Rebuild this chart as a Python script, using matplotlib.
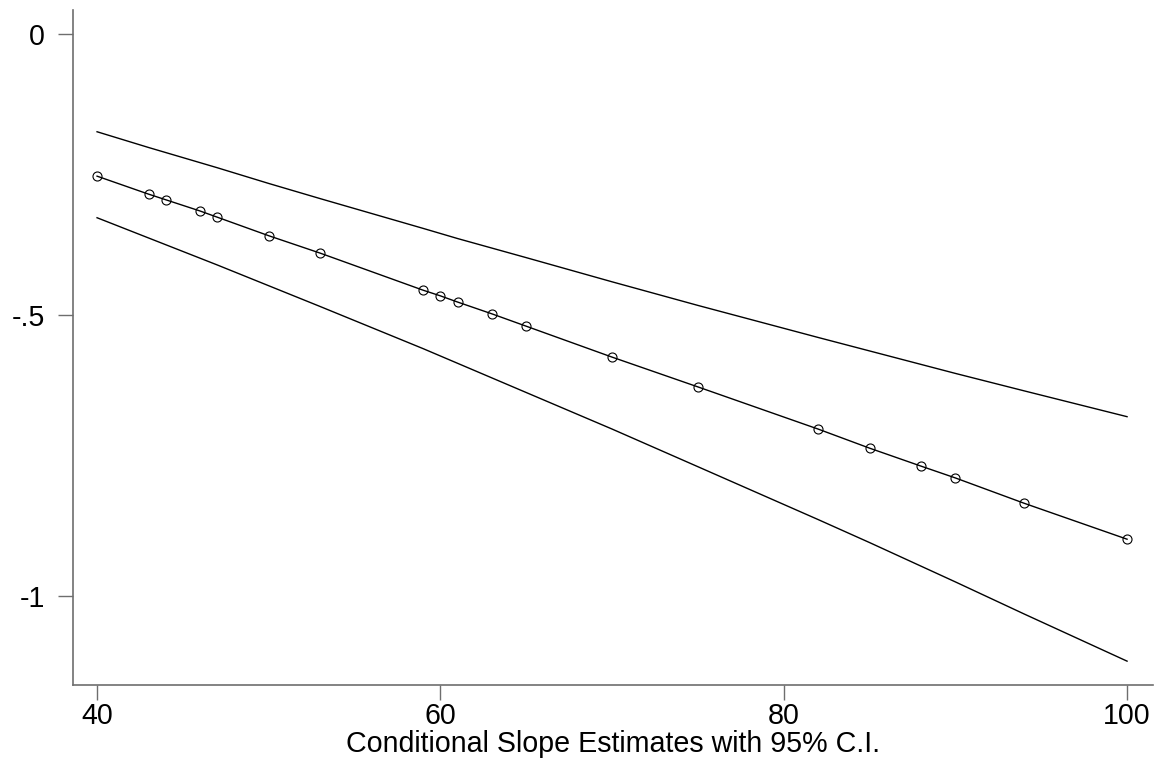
import numpy as np
import matplotlib.pyplot as plt
import matplotlib as mpl

mpl.rcParams["font.family"] = ["Liberation Sans", "DejaVu Sans"]

# moderator values and conditional slope estimates
x_vals = [40, 43, 44, 46, 47, 50, 53, 59, 60, 61, 63, 65, 70, 75, 82, 85, 88, 90, 94, 100]
slope = [-0.253, -0.285, -0.295, -0.315, -0.326, -0.359, -0.390, -0.456, -0.466, -0.477,
         -0.498, -0.520, -0.575, -0.628, -0.703, -0.737, -0.769, -0.790, -0.835, -0.899]
ci_upper = [-0.174, -0.202, -0.211, -0.229, -0.238, -0.266, -0.293, -0.346, -0.355, -0.364,
            -0.381, -0.398, -0.441, -0.483, -0.540, -0.564, -0.588, -0.604, -0.635, -0.681]
ci_lower = [-0.327, -0.363, -0.375, -0.399, -0.411, -0.448, -0.485, -0.560, -0.573, -0.586,
            -0.612, -0.638, -0.703, -0.770, -0.864, -0.905, -0.947, -0.975, -1.032, -1.116]

x_ticks = [40, 60, 80, 100]
y_ticks = [0, -0.5, -1]
y_tick_labels = ["0", "-.5", "-1"]
x_label = "Conditional Slope Estimates with 95% C.I."

fig = plt.figure(figsize=(11.59, 7.61), dpi=100)
ax = fig.add_axes([0.063, 0.0999, 0.9318, 0.887])

ax.plot(x_vals, ci_upper, color="black", linewidth=1.0)
ax.plot(x_vals, ci_lower, color="black", linewidth=1.0)
ax.plot(x_vals, slope, color="black", linewidth=1.0, marker="o", markersize=6.5,
        markerfacecolor="none", markeredgecolor="black", markeredgewidth=0.8)

ax.set_xlim(38.6, 101.51)
ax.set_ylim(-1.1584, 0.0427)

ax.set_xticks(x_ticks)
ax.set_xticklabels([str(t) for t in x_ticks])
ax.set_yticks(y_ticks)
ax.set_yticklabels(y_tick_labels)

for side in ["top", "right"]:
    ax.spines[side].set_visible(False)
for side in ["left", "bottom"]:
    ax.spines[side].set_color("#6e6e6e")
    ax.spines[side].set_linewidth(1.2)

ax.tick_params(axis="both", direction="out", length=11, width=1.0, color="#6e6e6e",
               labelsize=20.6, labelcolor="black")
ax.tick_params(axis="y", pad=9)
ax.tick_params(axis="x", pad=1)

ax.set_xlabel(x_label, fontsize=20.6, labelpad=0)

fig.savefig("out.png", dpi=100)
